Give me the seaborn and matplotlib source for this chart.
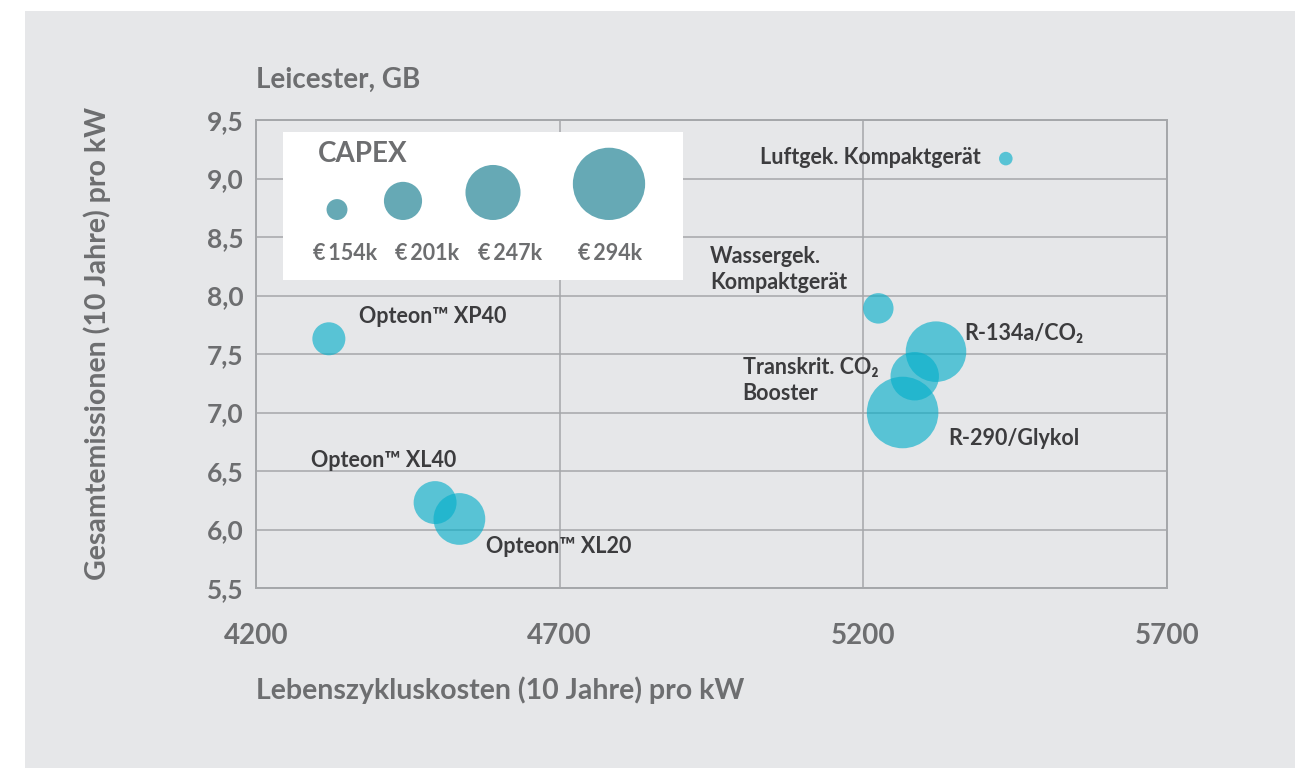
import numpy as np
import pandas as pd
import matplotlib
matplotlib.use("Agg")
import matplotlib.pyplot as plt
from matplotlib.patches import Rectangle
import seaborn as sns

# Data
names = ["Luftgek. Kompaktgerät", "Wassergek.\nKompaktgerät", "R-134a/CO₂",
         "Transkrit. CO₂\nBooster", "R-290/Glykol", "Opteon™ XP40",
         "Opteon™ XL40", "Opteon™ XL20"]
lcc = [5435, 5225, 5320, 5285, 5265, 4320, 4495, 4535]          # Lebenszykluskosten
emissions = [9.17, 7.89, 7.52, 7.31, 7.00, 7.63, 6.23, 6.09]   # Gesamtemissionen
capex = [134, 180, 262, 229, 292, 187, 214, 238]                # CAPEX in k€

legend_capex = [154, 201, 247, 294]
legend_labels = ["€\u2009154k", "€\u2009201k", "€\u2009247k", "€\u2009294k"]

x_ticks = [4200, 4700, 5200, 5700]
y_ticks = [5.5, 6.0, 6.5, 7.0, 7.5, 8.0, 8.5, 9.0, 9.5]

# label offsets (points) and alignment
label_offsets = [(-18, 1), (-121, 28), (20, 13), (-124, -3), (33, -19),
                 (22, 16), (-89, 30), (19, -20)]
label_ha = ["right", "left", "left", "left", "left", "left", "left", "left"]

DPI = 100
BUBBLE = "#05afca"
LEGEND_BUBBLE = "#66a9b5"
GREY_TXT = "#6d6e70"
DARK_TXT = "#3c3c3e"
PANEL = "#e6e7e9"
GRID = "#a5a7aa"


def capex_to_s(v):
    # bubble radius (px) grows linearly with CAPEX, converted to points^2
    r = 23.3 + 0.1835 * (np.asarray(v, dtype=float) - 224)
    return (2 * r * 72 / DPI) ** 2


sns.set_theme(style="white")
plt.rcParams["font.family"] = ["Lato", "DejaVu Sans"]

df = pd.DataFrame({"name": names, "lcc": lcc, "em": emissions, "capex": capex})

fig = plt.figure(figsize=(13.1, 7.68), dpi=DPI)
fig.patch.set_facecolor("white")
fig.patches.append(Rectangle((25 / 1310, 0), 1270 / 1310, 1 - 11 / 768,
                             transform=fig.transFigure, facecolor=PANEL,
                             edgecolor="none", zorder=-10))

ax = fig.add_axes([256 / 1310, 1 - 588 / 768, 910.7 / 1310, 468 / 768])
ax.set_facecolor(PANEL)
ax.set_axisbelow(True)

sns.scatterplot(data=df, x="lcc", y="em", s=capex_to_s(df["capex"]), color=BUBBLE,
                alpha=0.63, linewidth=0, legend=False, ax=ax, zorder=3)

ax.set_xlim(4200, 5700)
ax.set_ylim(5.5, 9.5)
ax.set_xticks(x_ticks, labels=[str(t) for t in x_ticks], fontsize=20,
              fontweight="bold", color=GREY_TXT)
ax.set_yticks(y_ticks, labels=[f"{t:.1f}".replace(".", ",") for t in y_ticks],
              fontsize=19, fontweight="bold", color=GREY_TXT)
ax.grid(True, color=GRID, linewidth=1.1)
for sp in ax.spines.values():
    sp.set_visible(True)
    sp.set_color(GRID)
    sp.set_linewidth(1.4)
ax.tick_params(axis="both", length=0)
ax.tick_params(axis="x", pad=25)
ax.tick_params(axis="y", pad=9)

ax.set_xlabel("Lebenszykluskosten (10 Jahre) pro kW", fontsize=20.5, color=GREY_TXT,
              fontweight="bold", ha="left", va="center")
ax.xaxis.set_label_coords(0, -0.218)
ax.set_ylabel("Gesamtemissionen (10 Jahre) pro kW", fontsize=20.5, color=GREY_TXT,
              fontweight="bold", va="center")
ax.yaxis.set_label_coords(-0.174, 0.523)
ax.set_title("Leicester, GB", loc="left", fontsize=20, fontweight="bold",
             color=GREY_TXT, y=1.0855, pad=0, va="center")

for i, row in df.iterrows():
    ax.annotate(row["name"], (row["lcc"], row["em"]), xytext=label_offsets[i],
                textcoords="offset points", ha=label_ha[i], va="center",
                fontsize=15.5, fontweight="bold", color=DARK_TXT,
                linespacing=1.25, zorder=4)

# CAPEX legend box
lax = ax.inset_axes([27 / 910.7, 1 - 160 / 468, 400 / 910.7, 148 / 468])
lax.set_facecolor("white")
lax.set_xlim(0, 400)
lax.set_ylim(148, 0)
for sp in lax.spines.values():
    sp.set_visible(False)
lax.set_xticks([])
lax.set_yticks([])
leg_r = 23.3 + 0.1835 * (np.array(legend_capex) - 224)
leg_x = [54, 120, 210, 326]
sns.scatterplot(x=leg_x, y=88 - leg_r, s=capex_to_s(legend_capex), color=LEGEND_BUBBLE,
                linewidth=0, legend=False, ax=lax)
lax.text(35, 22, "CAPEX", fontsize=20, color=GREY_TXT, fontweight="bold",
         ha="left", va="center")
for lx, lab in zip([62, 144, 227, 327], legend_labels):
    lax.text(lx, 121, lab, fontsize=15.5, color=GREY_TXT, fontweight="bold",
             ha="center", va="center")

fig.savefig("out.png", dpi=DPI)
